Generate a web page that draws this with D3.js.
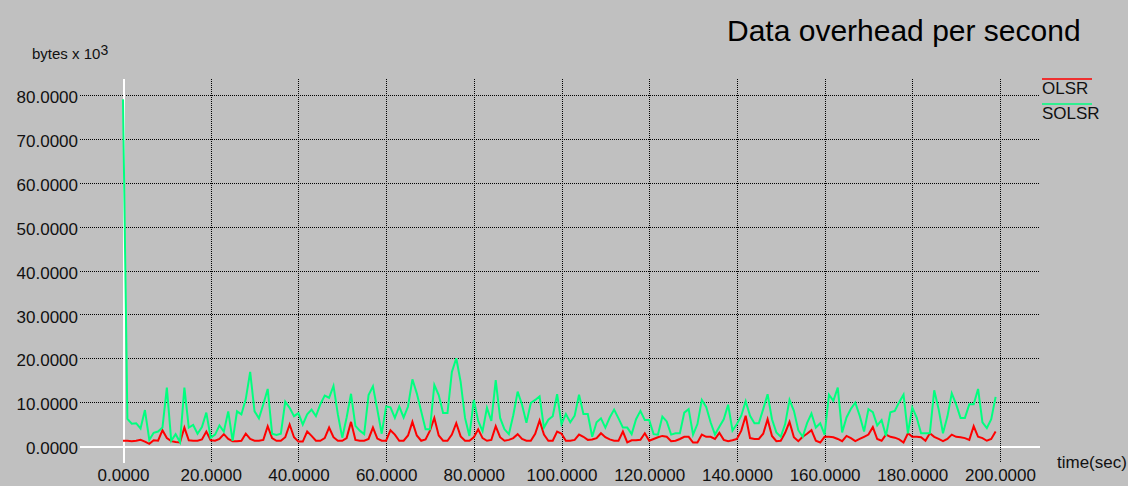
<!DOCTYPE html>
<html>
<head>
<meta charset="utf-8">
<script src="https://cdn.jsdelivr.net/npm/d3@7"></script>
<style>
  html, body { margin: 0; padding: 0; background: #c0c0c0; }
  svg { display: block; }
  text { font-family: "Liberation Sans", Arial, Helvetica, sans-serif; fill: #111; }
</style>
</head>
<body>
<svg id="chart" width="1128" height="486"></svg>
<script>
// Sampling instants (seconds)
const seconds = d3.range(0, 200);

// OLSR control traffic, bytes x 10^3 per second
const olsr = [
  1.2, 1.2, 1.1, 1.2, 1.4, 1.0, 0.5, 1.3, 1.2, 3.6,
  1.8, 1.1, 0.9, 0.8, 4.2, 1.3, 1.2, 1.2, 1.5, 3.3,
  1.3, 1.2, 1.6, 2.7, 1.6, 1.1, 1.1, 1.2, 2.8, 1.6,
  1.2, 1.2, 1.4, 4.5, 1.8, 1.2, 1.2, 2.0, 4.9, 2.0,
  1.0, 1.0, 3.3, 2.3, 1.2, 1.2, 1.8, 4.2, 2.0, 1.2,
  1.2, 1.8, 5.5, 1.4, 1.2, 1.2, 1.6, 4.2, 1.7, 1.2,
  1.2, 3.6, 2.6, 1.2, 1.2, 2.4, 5.5, 2.4, 1.2, 1.5,
  3.5, 6.4, 2.4, 1.2, 1.2, 2.6, 5.2, 2.2, 1.2, 1.2,
  2.0, 3.8, 1.8, 1.2, 1.4, 4.5, 2.0, 1.2, 1.4, 1.8,
  2.7, 1.6, 1.2, 1.2, 2.8, 5.8, 2.6, 1.2, 1.2, 3.3,
  2.8, 1.2, 1.2, 1.4, 2.6, 2.1, 1.4, 1.5, 1.8, 2.9,
  2.0, 1.5, 1.2, 1.2, 3.3, 0.8, 1.3, 1.3, 1.4, 2.9,
  1.2, 1.6, 2.0, 2.3, 2.1, 1.1, 1.2, 1.6, 2.1, 2.1,
  0.8, 0.8, 2.6, 2.1, 2.1, 1.6, 3.0, 1.4, 1.1, 1.3,
  1.6, 3.5, 6.9, 1.8, 1.6, 1.6, 2.8, 6.1, 2.3, 1.1,
  1.2, 3.0, 5.5, 2.0, 1.1, 2.1, 2.8, 3.6, 1.2, 0.8,
  2.1, 2.1, 2.0, 1.6, 1.1, 2.3, 1.8, 1.1, 1.6, 2.1,
  2.6, 4.3, 1.6, 1.2, 2.6, 2.1, 1.9, 1.5, 0.8, 2.9,
  2.1, 2.1, 2.0, 1.2, 2.9, 2.1, 1.6, 1.1, 1.6, 2.6,
  2.1, 2.0, 1.8, 1.4, 4.5, 2.1, 1.8, 1.2, 1.6, 3.3
];

// SOLSR control traffic, bytes x 10^3 per second
const solsr = [
  79.0, 6.2, 5.1, 5.2, 4.0, 8.2, 1.4, 3.0, 3.3, 4.2,
  13.3, 1.2, 2.7, 0.9, 13.3, 4.2, 4.8, 2.8, 4.3, 7.6,
  1.9, 2.6, 4.7, 3.3, 7.9, 1.2, 7.9, 7.2, 10.7, 16.9,
  7.9, 6.3, 9.5, 13.0, 2.8, 2.5, 2.8, 10.1, 8.7, 6.8,
  7.5, 4.9, 7.2, 8.3, 6.8, 9.5, 11.5, 11.0, 13.7, 7.2,
  1.9, 6.5, 11.9, 4.6, 3.5, 2.7, 11.6, 13.6, 8.3, 2.8,
  9.0, 8.8, 6.4, 9.0, 6.5, 9.0, 15.2, 12.0, 7.9, 3.8,
  3.8, 13.9, 11.6, 7.5, 7.5, 16.9, 20.0, 14.6, 6.4, 2.3,
  10.5, 5.7, 3.4, 8.7, 5.7, 15.0, 6.4, 3.8, 2.7, 7.0,
  12.4, 9.4, 5.3, 9.8, 10.5, 11.3, 4.2, 6.0, 6.8, 11.8,
  5.0, 7.3, 5.4, 6.9, 11.7, 7.3, 7.3, 2.1, 5.4, 6.3,
  4.2, 6.5, 8.3, 6.3, 4.2, 4.2, 2.7, 6.1, 8.0, 5.9,
  5.9, 2.7, 2.6, 6.7, 5.6, 2.6, 2.9, 2.9, 7.6, 8.4,
  2.6, 5.0, 10.5, 8.9, 5.4, 2.6, 4.4, 6.1, 9.4, 3.5,
  5.0, 6.9, 10.2, 6.9, 5.2, 5.2, 8.4, 11.8, 6.1, 3.1,
  2.1, 5.0, 10.5, 8.0, 3.6, 2.1, 5.2, 7.4, 4.2, 5.2,
  2.6, 11.7, 10.3, 13.3, 3.1, 6.5, 8.5, 9.9, 6.9, 3.3,
  8.4, 7.7, 4.7, 5.9, 2.3, 7.7, 8.0, 10.0, 11.7, 2.9,
  8.8, 6.5, 2.9, 2.9, 2.9, 12.7, 8.4, 2.9, 6.7, 12.0,
  9.5, 6.4, 6.4, 9.5, 9.5, 13.0, 5.4, 4.1, 6.1, 11.2
];

const seriesNames = ["OLSR", "SOLSR"];
const seriesColors = ["#ff0000", "#00ff7f"];
const yTicks = [0, 10, 20, 30, 40, 50, 60, 70, 80];
const xTicks = [0, 20, 40, 60, 80, 100, 120, 140, 160, 180, 200];

const svg = d3.select("#chart");

const x = d3.scaleLinear().domain([0, 200]).range([123, 1000]);
const y = d3.scaleLinear().domain([0, 80]).range([446, 95]);

const gridLeft = 80, gridRight = 1040, gridTop = 79, gridBottom = 463;
const fmt = d3.format(".4f");

// Horizontal grid + y labels
const yAxis = svg.append("g")
  .attr("transform", `translate(${gridLeft},0)`)
  .call(d3.axisLeft(y).tickValues(yTicks).tickFormat(fmt)
    .tickSize(-(gridRight - gridLeft)).tickPadding(2));
yAxis.select(".domain").remove();
yAxis.selectAll(".tick line")
  .attr("stroke", d => d === 0 ? "#ffffff" : "#000")
  .attr("stroke-width", d => d === 0 ? 2 : 1)
  .attr("stroke-dasharray", d => d === 0 ? null : "1,1")
  .attr("shape-rendering", "crispEdges");
yAxis.selectAll(".tick text")
  .attr("dy", "0.45em")
  .style("font-size", "17px")
  .style("fill", "#111");

// Vertical grid + x labels
const xAxis = svg.append("g")
  .attr("transform", `translate(0,${gridTop})`)
  .call(d3.axisBottom(x).tickValues(xTicks).tickFormat(fmt)
    .tickSize(gridBottom - gridTop).tickPadding(6));
xAxis.select(".domain").remove();
xAxis.selectAll(".tick line")
  .attr("stroke", d => d === 0 ? "#ffffff" : "#000")
  .attr("stroke-width", d => d === 0 ? 2 : 1)
  .attr("stroke-dasharray", d => d === 0 ? null : "1,1")
  .attr("shape-rendering", "crispEdges");
xAxis.selectAll(".tick text")
  .style("font-size", "17px")
  .style("fill", "#111");
svg.selectAll("g").attr("font-family", null).attr("font-size", null);

// Series lines
const line = d3.line()
  .x((d, i) => x(seconds[i]))
  .y(d => y(d));

[olsr, solsr].forEach((vals, k) => {
  svg.append("path")
    .datum(vals)
    .attr("fill", "none")
    .attr("stroke", seriesColors[k])
    .attr("stroke-width", 2)
    .attr("stroke-linejoin", "miter")
    .attr("d", line);
});

// Title
svg.append("text")
  .attr("x", 727).attr("y", 41)
  .style("font-size", "30px")
  .style("fill", "#000")
  .text("Data overhead per second");

// Y unit label
const unit = svg.append("text")
  .attr("x", 32).attr("y", 59)
  .style("font-size", "15px");
unit.append("tspan").text("bytes x 10");
unit.append("tspan").attr("dy", -4).style("font-size", "14px").text("3");

// X unit label
svg.append("text")
  .attr("x", 1057).attr("y", 468)
  .style("font-size", "17px")
  .text("time(sec)");

// Legend
const legend = svg.append("g").attr("transform", "translate(1042,0)");
seriesNames.forEach((name, k) => {
  const top = 79 + k * 25;
  legend.append("line")
    .attr("x1", 0).attr("x2", 50)
    .attr("y1", top).attr("y2", top)
    .attr("stroke", seriesColors[k])
    .attr("stroke-width", 1.5);
  legend.append("text")
    .attr("x", 0).attr("y", top + 15)
    .style("font-size", "17px")
    .text(name);
});
</script>
</body>
</html>
